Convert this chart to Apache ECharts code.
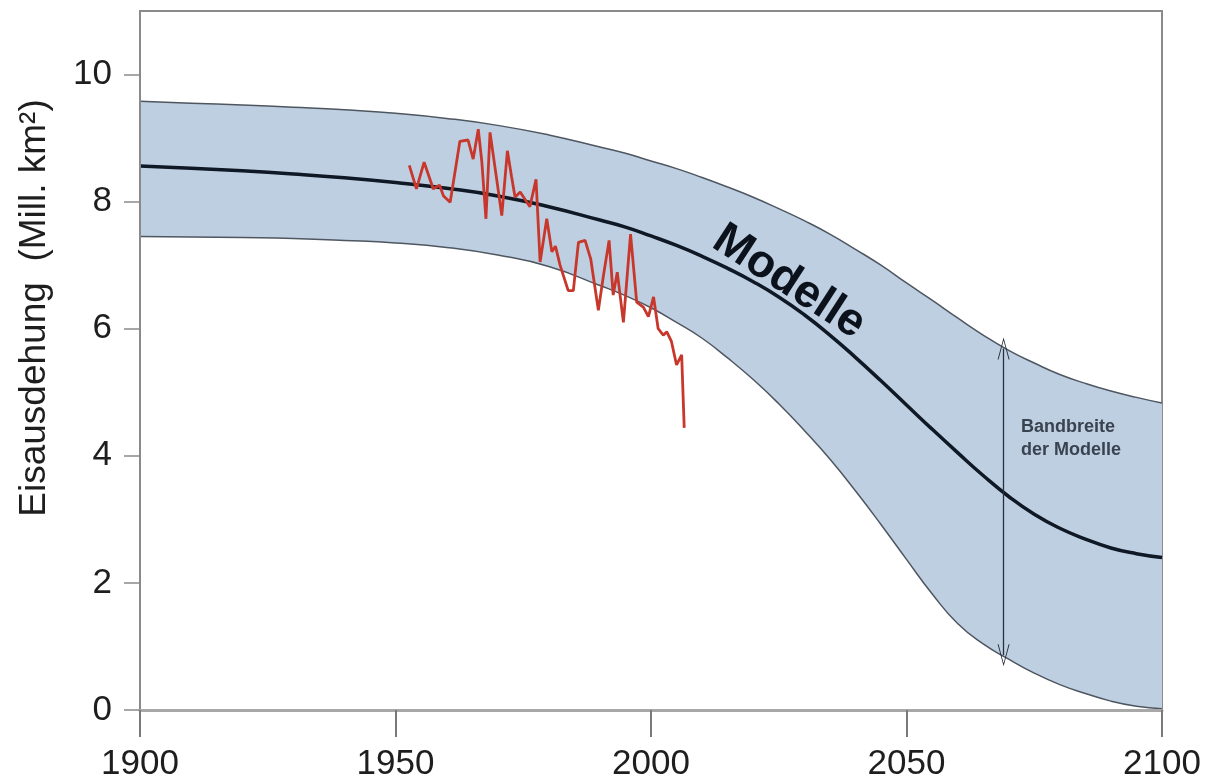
<!DOCTYPE html>
<html>
<head>
<meta charset="utf-8">
<script src="https://cdn.jsdelivr.net/npm/echarts@6/dist/echarts.min.js"></script>
<style>
html,body{margin:0;padding:0;background:#fff;}
#chart{width:1211px;height:782px;}
</style>
</head>
<body>
<div id="chart"></div>
<script>
// ---- data ----
const modelYears = [1900,1910,1920,1930,1940,1950,1960,1970,1980,1990,1995,2000,2005,2010,2015,2020,2025,2030,2035,2040,2045,2050,2055,2060,2065,2070,2075,2080,2085,2090,2095,2100];
const modelUpper = [9.58,9.55,9.52,9.485,9.445,9.39,9.31,9.20,9.05,8.86,8.76,8.64,8.52,8.38,8.23,8.07,7.89,7.70,7.49,7.25,7.00,6.72,6.45,6.17,5.90,5.66,5.46,5.28,5.14,5.02,4.92,4.83];
const modelMean  = [8.56,8.525,8.485,8.435,8.375,8.30,8.21,8.09,7.92,7.71,7.60,7.46,7.31,7.14,6.95,6.74,6.50,6.22,5.90,5.55,5.18,4.80,4.42,4.05,3.69,3.36,3.08,2.86,2.69,2.55,2.46,2.40];
const modelLower = [7.45,7.445,7.435,7.42,7.39,7.35,7.28,7.16,6.98,6.68,6.52,6.33,6.10,5.85,5.54,5.20,4.82,4.40,3.95,3.45,2.92,2.37,1.83,1.36,1.04,0.80,0.58,0.40,0.26,0.14,0.06,0.02];

const obsYears  = [1952.7,1954.1,1955.6,1957.4,1958.6,1959.4,1960.7,1962.6,1964.2,1965.2,1966.2,1966.9,1967.7,1968.5,1969.7,1970.8,1971.9,1972.7,1973.4,1974.4,1975.3,1976.3,1977.5,1978.3,1979.6,1980.6,1981.3,1982.2,1983.8,1984.8,1985.8,1987.1,1988.2,1989.7,1990.7,1991.8,1992.6,1993.4,1994.6,1996.0,1997.2,1998.5,1999.5,2000.5,2001.4,2002.4,2003.1,2004.0,2005.0,2006.0,2006.5];
const obsValues = [8.57,8.20,8.62,8.20,8.26,8.09,7.99,8.95,8.97,8.67,9.14,8.62,7.73,9.09,8.41,7.78,8.80,8.40,8.07,8.15,8.04,7.92,8.35,7.05,7.73,7.21,7.30,7.00,6.60,6.60,7.36,7.39,7.10,6.29,6.84,7.39,6.53,6.89,6.10,7.49,6.42,6.34,6.19,6.50,6.00,5.90,5.95,5.80,5.43,5.59,4.44];

const yTicks = [0,2,4,6,8,10];
const xTicks = [1900,1950,2000,2050,2100];

const arrowYear = 2069, arrowTop = 5.69, arrowBottom = 0.86;

// ---- build ----
const pairs = (xs, ys) => xs.map((x, i) => [x, ys[i]]);
const chevron = 'path://M6,0 L12,22 L11,22 L6,3 L1,22 L0,22 Z';
const FONT = 'Liberation Sans, Arial, sans-serif';

const chart = echarts.init(document.getElementById('chart'));
chart.setOption({
  animation: false,
  backgroundColor: '#ffffff',
  grid: {left: 140, right: 49, top: 11, bottom: 69, show: true, borderColor: '#8a8a8a', borderWidth: 2, backgroundColor: 'transparent'},
  xAxis: {
    type: 'value', min: 1900, max: 2100, interval: 50, z: 5,
    axisLine: {show: true, onZero: false, lineStyle: {color: '#a8a8a8', width: 3}},
    axisTick: {show: true, length: 27, lineStyle: {color: '#7a7a7a', width: 2}, customValues: xTicks},
    axisLabel: {fontSize: 35, color: '#1e1e1e', margin: 37, fontFamily: FONT, customValues: xTicks,
                formatter: v => String(v)},
    splitLine: {show: false}
  },
  yAxis: {
    type: 'value', min: 0, max: 11, interval: 1, z: 5,
    axisLine: {show: true, lineStyle: {color: '#8a8a8a', width: 2}},
    axisTick: {show: true, length: 16, lineStyle: {color: '#8a8a8a', width: 1.5}, customValues: yTicks},
    axisLabel: {fontSize: 35, color: '#1e1e1e', margin: 28, fontFamily: FONT, customValues: yTicks,
                formatter: v => String(v)},
    splitLine: {show: false}
  },
  series: [
    {
      name: 'upper', type: 'line', data: pairs(modelYears, modelUpper),
      showSymbol: false, symbol: 'none', smooth: 0.5, z: 1,
      lineStyle: {color: '#4e5660', width: 1.5},
      areaStyle: {color: '#bfcfe2', opacity: 1, origin: 'start'}
    },
    {
      name: 'lower', type: 'line', data: pairs(modelYears, modelLower),
      showSymbol: false, symbol: 'none', smooth: 0.5, z: 1,
      lineStyle: {color: '#4e5660', width: 1.5},
      areaStyle: {color: '#ffffff', opacity: 1, origin: 'start'}
    },
    {
      name: 'Modelle', type: 'line', data: pairs(modelYears, modelMean),
      showSymbol: false, symbol: 'none', smooth: 0.5, z: 3,
      lineStyle: {color: '#0f1825', width: 3.5},
      markLine: {
        silent: true, symbol: [chevron, chevron], symbolSize: [12, 22],
        label: {show: false},
        lineStyle: {color: '#27303c', width: 1.3, type: 'solid'},
        data: [[{coord: [arrowYear, arrowTop]}, {coord: [arrowYear, arrowBottom]}]]
      }
    },
    {
      name: 'Beobachtung', type: 'line', data: pairs(obsYears, obsValues),
      showSymbol: false, symbol: 'none', z: 4,
      lineStyle: {color: '#c8372b', width: 2.8}
    }
  ],
  graphic: [
    {type: 'text', x: 35, y: 308, rotation: Math.PI / 2,
     style: {text: 'Eisausdehung  (Mill. km²)', fontSize: 37, fill: '#1e1e1e', fontFamily: FONT, align: 'center', verticalAlign: 'middle'}},
    {type: 'text', x: 367, y: 342,
     style: {text: 'Beobachtung', fontSize: 42, fill: '#9c0f3a', fontFamily: FONT, align: 'left', verticalAlign: 'middle'}},
    {type: 'text', x: 789, y: 282, rotation: -33 * Math.PI / 180, z: 10,
     style: {text: 'Modelle', fontSize: 46, fontWeight: 'bold', fill: '#0c121c', fontFamily: FONT, align: 'center', verticalAlign: 'middle'}},
    {type: 'text', x: 1021, y: 439, z: 10,
     style: {text: 'Bandbreite\nder Modelle', fontSize: 18, lineHeight: 23, fontWeight: 'bold', fill: '#39434f', fontFamily: FONT, align: 'left', verticalAlign: 'middle'}}
  ]
});
</script>
</body>
</html>
